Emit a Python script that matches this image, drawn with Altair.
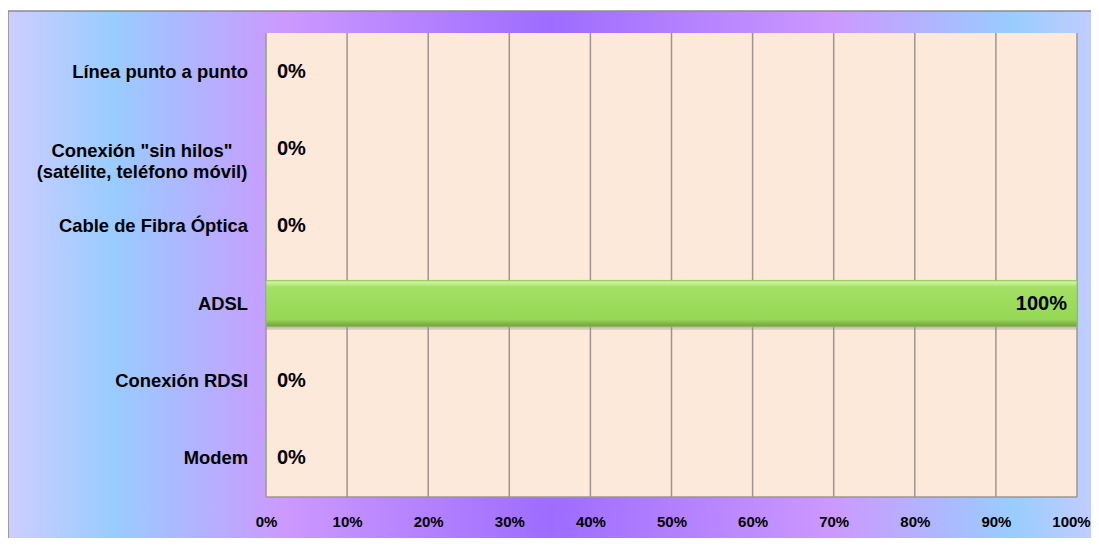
import altair as alt
import pandas as pd

# ---- data ----
categories = [
    "Línea punto a punto",
    "Conexión \"sin hilos\"\n(satélite, teléfono móvil)",
    "Cable de Fibra Óptica",
    "ADSL",
    "Conexión RDSI",
    "Modem",
]
values = [0.0, 0.0, 0.0, 1.0, 0.0, 0.0]
tick_values = [0.0, 0.1, 0.2, 0.3, 0.4, 0.5, 0.6, 0.7, 0.8, 0.9, 1.0]

df = pd.DataFrame({"category": categories, "value": values})
df["multi"] = df["category"].str.contains("\n")
ticks_df = pd.DataFrame({"tick": tick_values})

W, H = 811, 464
FONT = "Liberation Sans"

bg_gradient = alt.Gradient(
    gradient="linear",
    x1=0, x2=1, y1=0, y2=0,
    stops=[
        alt.GradientStop(offset=0.0, color="#CECDFF"),
        alt.GradientStop(offset=0.095, color="#99CCFF"),
        alt.GradientStop(offset=0.25, color="#CC99FF"),
        alt.GradientStop(offset=0.49, color="#9E6CFF"),
        alt.GradientStop(offset=0.745, color="#CC99FF"),
        alt.GradientStop(offset=0.905, color="#99CCFF"),
        alt.GradientStop(offset=1.0, color="#CECDFF"),
    ],
)

bar_gradient = alt.Gradient(
    gradient="linear",
    x1=0, x2=0, y1=0, y2=1,
    stops=[
        alt.GradientStop(offset=0.0, color="#B2E47E"),
        alt.GradientStop(offset=0.05, color="#C9F39C"),
        alt.GradientStop(offset=0.14, color="#A3E064"),
        alt.GradientStop(offset=0.5, color="#9CDC5A"),
        alt.GradientStop(offset=0.84, color="#97D757"),
        alt.GradientStop(offset=0.92, color="#82B94A"),
        alt.GradientStop(offset=1.0, color="#71A040"),
    ],
)

y_enc = alt.Y(
    "category:N",
    sort=categories,
    axis=None,
    scale=alt.Scale(paddingInner=0.4, paddingOuter=0.2),
)
x_scale = alt.Scale(domain=[0, 1])

one = alt.Data(values=[{}])

background = alt.Chart(one).mark_rect(
    fill=bg_gradient, stroke="#8C8C8C", strokeWidth=1.5, clip=False
).encode(
    x=alt.value(-258), x2=alt.value(W + 40),
    y=alt.value(-22), y2=alt.value(H + 70),
)

plot_bg = alt.Chart(one).mark_rect(fill="#FDE9DA").encode(
    x=alt.value(0), x2=alt.value(W), y=alt.value(0), y2=alt.value(H)
)

grid = alt.Chart(ticks_df).mark_rule(color="#9C9690", strokeWidth=1.5).encode(
    x=alt.X("tick:Q", scale=x_scale),
    y=alt.value(0), y2=alt.value(H),
)

bottom_line = alt.Chart(one).mark_rule(color="#9C9690", strokeWidth=1.5).encode(
    x=alt.value(0), x2=alt.value(W), y=alt.value(H)
)

base = alt.Chart(df)

bar_shadow = base.transform_filter("datum.value > 0").mark_bar(
    fill="#8F8A86", opacity=0.35, yOffset=3
).encode(
    x=alt.X("value:Q", scale=x_scale),
    y=y_enc,
)

bars = base.mark_bar(fill=bar_gradient, stroke="#8DC653", strokeWidth=0.8).encode(
    x=alt.X(
        "value:Q",
        scale=x_scale,
        axis=alt.Axis(
            values=tick_values,
            format="%",
            grid=False,
            ticks=False,
            domain=False,
            title=None,
            labelFont=FONT,
            labelFontSize=15,
            labelFontWeight="bold",
            labelColor="black",
            labelPadding=17,
            labelFlush=False,
            labelOffset={"condition": {"test": "datum.value >= 1", "value": -6}, "value": 0},
            zindex=1,
        ),
    ),
    y=y_enc,
)

labels_zero = base.transform_filter("datum.value < 0.5").mark_text(
    align="left", baseline="middle", dx=11, font=FONT, fontSize=20,
    fontWeight="bold", color="black",
).encode(
    x=alt.X("value:Q", scale=x_scale),
    y=y_enc,
    text=alt.Text("value:Q", format=".0%"),
)

labels_full = base.transform_filter("datum.value >= 0.5").mark_text(
    align="right", baseline="middle", dx=-10, font=FONT, fontSize=20,
    fontWeight="bold", color="black",
).encode(
    x=alt.X("value:Q", scale=x_scale),
    y=y_enc,
    text=alt.Text("value:Q", format=".0%"),
)

cat_single = base.transform_filter("!datum.multi").mark_text(
    align="right", baseline="middle", font=FONT, fontSize=18.4,
    fontWeight="bold", color="black",
).encode(
    x=alt.value(-18),
    y=y_enc,
    text="category:N",
)

cat_multi = base.transform_filter("datum.multi").mark_text(
    align="center", baseline="middle", font=FONT, fontSize=18.4,
    fontWeight="bold", color="black", lineBreak="\n", lineHeight=21, dy=2,
).encode(
    x=alt.value(-124),
    y=y_enc,
    text="category:N",
)

chart = alt.layer(
    background, plot_bg, grid, bottom_line, bar_shadow, bars,
    labels_zero, labels_full, cat_single, cat_multi,
).properties(
    width=W,
    height=H,
    autosize=alt.AutoSizeParams(type="none"),
    padding={"left": 258, "top": 25, "right": 14, "bottom": 41},
    background="white",
).configure_view(stroke=None)

chart.save("out.html", embed_options={"renderer": "svg", "actions": False})
